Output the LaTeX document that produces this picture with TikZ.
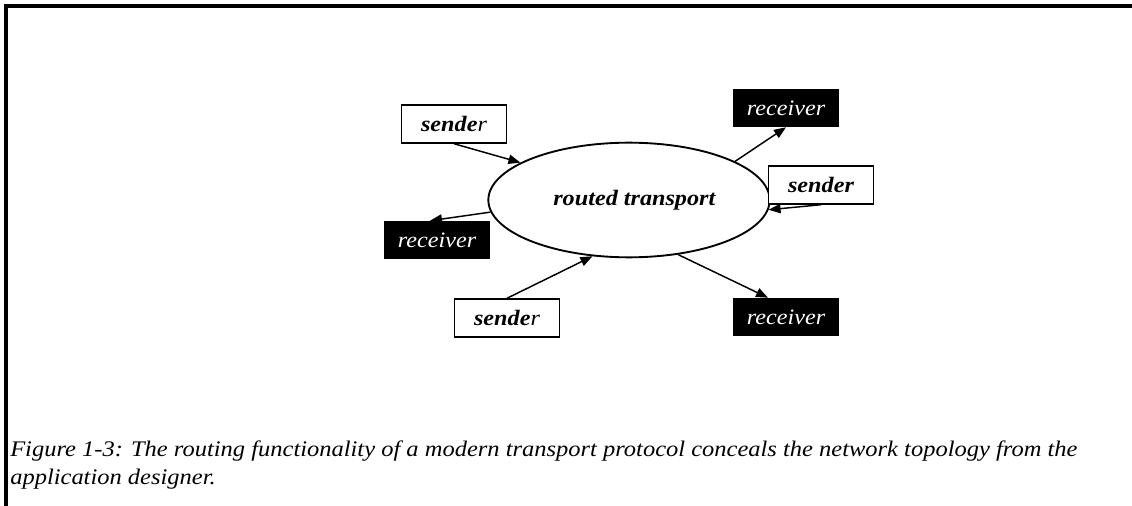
\documentclass[tikz,border=0pt]{standalone}
\usepackage{fontspec}
\setmainfont[FakeStretch=1.1]{Liberation Serif}
\usetikzlibrary{arrows.meta,shapes.geometric}

\tikzset{
  sendbox/.style={draw,line width=1.1pt,fill=white,minimum width=79pt,minimum height=28.5pt,inner sep=0pt,
    font=\fontsize{16.5}{19}\selectfont\bfseries\itshape},
  recvbox/.style={fill=black,text=white,minimum width=79.5pt,minimum height=28.5pt,inner sep=0pt,
    font=\fontsize{16.5}{19}\selectfont\itshape},
  flow/.style={line width=1.1pt,-{Triangle[length=9pt,width=7pt]}},
  captext/.style={anchor=base west,inner sep=0pt,font=\fontsize{16.7}{21}\selectfont\itshape},
}

\begin{document}
\begin{tikzpicture}[x=0.75pt,y=-0.75pt]
  \useasboundingbox (0,0) rectangle (1132,506);
  % frame
  \draw[line width=2.3pt] (6,506) -- (6,6) -- (1132,6);

  % transport cloud
  \node[ellipse,draw,line width=1.4pt,minimum width=211pt,minimum height=86pt,inner sep=0pt,
        font=\fontsize{16.5}{19}\selectfont\bfseries\itshape] (transport) at (629,200)
        {\raisebox{-4pt}{\hspace{8pt}routed transport}};

  % endpoints
  \node[sendbox] (sender1) at (454,124) {sende\mdseries r};
  \node[sendbox] (sender2) at (821,185) {sender};
  \node[sendbox] (sender3) at (507,318) {sende\mdseries r};
  \node[recvbox] (receiver1) at (786,108) {receiver};
  \node[recvbox] (receiver2) at (437,240) {receiver};
  \node[recvbox] (receiver3) at (786,317) {receiver};

  % traffic
  \draw[flow] (sender1.south) -- (transport.161);
  \draw[flow] (sender2.south) -- (transport.-4);
  \draw[flow] (sender3.north) -- (transport.237);
  \draw[flow] (transport.20) -- (receiver1.south);
  \draw[flow] (transport.185) -- (receiver2.110);
  \draw[flow] (transport.312) -- (receiver3.133);

  % caption
  \node[captext] (caption1) at (10,456) {Figure 1-3: The routing functionality of a modern transport protocol conceals the network topology from the};
  \node[captext] (caption2) at (10,484) {application designer.};
\end{tikzpicture}
\end{document}
